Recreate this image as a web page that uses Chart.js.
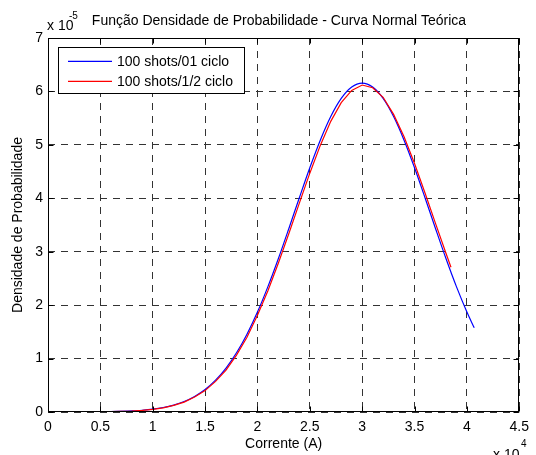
<!DOCTYPE html>
<html>
<head>
<meta charset="utf-8">
<script src="https://cdn.jsdelivr.net/npm/chart.js@4.4.1/dist/chart.umd.min.js"></script>
<style>
html,body{margin:0;padding:0;background:#fff;}
canvas{display:block;}
</style>
</head>
<body>
<canvas id="c" width="536" height="455"></canvas>
<script>
// ---- data (y in units of 1e-5, x in amperes) ----
const chartTitle = "Função Densidade de Probabilidade - Curva Normal Teórica";
const xAxisLabel = "Corrente (A)";
const yAxisLabel = "Densidade de Probabilidade";
const seriesLabels = ["100 shots/01 ciclo", "100 shots/1/2 ciclo"];
const xTickValues = [0, 5000, 10000, 15000, 20000, 25000, 30000, 35000, 40000, 45000];
const xTickLabels = ["0", "0.5", "1", "1.5", "2", "2.5", "3", "3.5", "4", "4.5"];
const yTickLabels = ["0", "1", "2", "3", "4", "5", "6", "7"];

const xBlue = [0, 2000, 4000, 6000, 8000, 9000, 10000, 11000, 12000, 13000, 14000, 15000,
  16000, 17000, 18000, 19000, 20000, 21000, 22000, 23000, 24000, 25000, 26000, 27000,
  28000, 29000, 30000, 31000, 32000, 33000, 34000, 35000, 36000, 37000, 38000, 39000,
  40000, 40700];
const yBlue = [0.0001, 0.0005, 0.0019, 0.0065, 0.0193, 0.0323, 0.0526, 0.0836, 0.130, 0.197,
  0.292, 0.422, 0.597, 0.823, 1.108, 1.457, 1.871, 2.347, 2.873, 3.435, 4.010, 4.571, 5.088,
  5.531, 5.870, 6.083, 6.156, 6.083, 5.870, 5.531, 5.088, 4.571, 4.010, 3.435, 2.873, 2.347,
  1.871, 1.575];

const xRed = [0, 2000, 4000, 6000, 8000, 9000, 10000, 11000, 12000, 13000, 14000, 15000,
  16000, 17000, 18000, 19000, 20000, 21000, 22000, 23000, 24000, 25000, 26000, 27000,
  28000, 29000, 30000, 31000, 32000, 33000, 34000, 35000, 36000, 37000, 38000, 38480];
const yRed = [0.0001, 0.0005, 0.002, 0.006, 0.019, 0.032, 0.05, 0.078, 0.125, 0.185,
  0.280, 0.400, 0.572, 0.785, 1.065, 1.400, 1.810, 2.270, 2.790, 3.340, 3.910, 4.470, 4.990,
  5.440, 5.790, 6.020, 6.120, 6.070, 5.890, 5.570, 5.150, 4.650, 4.100, 3.530, 2.970, 2.710];

const seriesColors = ["rgb(0,0,255)", "rgb(255,0,0)"];
const FONT = "Liberation Sans, Arial, Helvetica, sans-serif";

function pts(xs, ys) { return xs.map((x, i) => ({x: x, y: ys[i]})); }

const decor = {
  id: 'decor',
  afterDatasetsDraw(chart) {
    const ctx = chart.ctx;
    const a = chart.chartArea;
    const xs = chart.scales.x, ys = chart.scales.y;
    ctx.save();
    ctx.setLineDash([]);
    // frame
    ctx.strokeStyle = "#000";
    ctx.lineWidth = 1;
    const L = Math.round(a.left) + 0.5, R = Math.round(a.right) - 0.5;
    const T = Math.round(a.top) + 0.5, B = Math.round(a.bottom) - 0.5;
    ctx.strokeRect(L, T, R - L, B - T);
    // inward ticks
    ctx.beginPath();
    xTickValues.forEach(v => {
      const px = Math.round(xs.getPixelForValue(v)) + 0.5;
      ctx.moveTo(px, B); ctx.lineTo(px, B - 5);
      ctx.moveTo(px, T); ctx.lineTo(px, T + 5);
    });
    yTickLabels.forEach((t, i) => {
      const py = Math.round(ys.getPixelForValue(i)) + 0.5;
      ctx.moveTo(L, py); ctx.lineTo(L + 5, py);
      ctx.moveTo(R, py); ctx.lineTo(R - 5, py);
    });
    ctx.stroke();

    // legend box
    const lx = 58.5, ly = 47.5, lw = 186, lh = 46;
    ctx.fillStyle = "#fff";
    ctx.fillRect(lx, ly, lw, lh);
    ctx.strokeStyle = "#000";
    ctx.lineWidth = 1;
    ctx.strokeRect(lx, ly, lw, lh);
    ctx.font = "14px " + FONT;
    ctx.textBaseline = "middle";
    ctx.textAlign = "left";
    for (let i = 0; i < seriesLabels.length; i++) {
      const yy = 61 + i * 20;
      ctx.strokeStyle = seriesColors[i];
      ctx.lineWidth = 1.3;
      ctx.beginPath();
      ctx.moveTo(68, yy + 0.3); ctx.lineTo(112, yy + 0.3);
      ctx.stroke();
      ctx.fillStyle = "#000";
      ctx.fillText(seriesLabels[i], 117, yy + 1);
    }

    // title
    ctx.fillStyle = "#000";
    ctx.textBaseline = "alphabetic";
    ctx.textAlign = "center";
    ctx.font = "14px " + FONT;
    ctx.fillText(chartTitle, 279, 25);

    // exponent labels
    ctx.textAlign = "left";
    ctx.font = "14px " + FONT;
    ctx.fillText("x 10", 47, 30);
    ctx.font = "10px " + FONT;
    ctx.fillText("-5", 69, 19);
    ctx.font = "14px " + FONT;
    ctx.fillText("x 10", 493, 459);
    ctx.font = "10px " + FONT;
    ctx.fillText("4", 521, 447);
    ctx.restore();
  }
};

new Chart(document.getElementById("c"), {
  type: "line",
  data: {
    datasets: [
      { label: seriesLabels[0], data: pts(xBlue, yBlue), borderColor: seriesColors[0], borderWidth: 1.2,
        pointRadius: 0, fill: false, tension: 0, cubicInterpolationMode: "monotone", order: 1 },
      { label: seriesLabels[1], data: pts(xRed, yRed), borderColor: seriesColors[1], borderWidth: 1.2,
        pointRadius: 0, fill: false, tension: 0, order: 0 }
    ]
  },
  options: {
    responsive: false,
    animation: false,
    events: [],
    layout: { padding: { left: 0, right: 11, top: 38, bottom: 0 } },
    plugins: { legend: { display: false }, title: { display: false }, tooltip: { enabled: false } },
    scales: {
      x: {
        type: "linear", min: 0, max: 45000,
        afterBuildTicks: s => { s.ticks = xTickValues.map(v => ({ value: v })); },
        afterFit: s => { s.height = 43; },
        ticks: {
          color: "#000", font: { family: FONT, size: 14 }, padding: 7, maxRotation: 0, autoSkip: false,
          callback: (v) => { const i = xTickValues.indexOf(v); return i >= 0 ? xTickLabels[i] : ""; }
        },
        grid: { color: "#333", lineWidth: 1, drawTicks: false },
        border: { display: false, dash: [7, 6] },
        title: { display: true, text: xAxisLabel, color: "#000", font: { family: FONT, size: 14 }, padding: { top: 0, bottom: 2 } }
      },
      y: {
        type: "linear", min: 0, max: 7,
        afterBuildTicks: s => { s.ticks = yTickLabels.map((t, i) => ({ value: i })); },
        afterFit: s => { s.width = 48; },
        ticks: {
          color: "#000", font: { family: FONT, size: 14 }, padding: 5, autoSkip: false,
          callback: (v) => yTickLabels[v] !== undefined ? yTickLabels[v] : ""
        },
        grid: { color: "#333", lineWidth: 1, drawTicks: false },
        border: { display: false, dash: [7, 6] },
        title: { display: true, text: yAxisLabel, color: "#000", font: { family: FONT, size: 14 }, padding: { top: 10, bottom: 0 } }
      }
    }
  },
  plugins: [decor]
});
</script>
</body>
</html>
